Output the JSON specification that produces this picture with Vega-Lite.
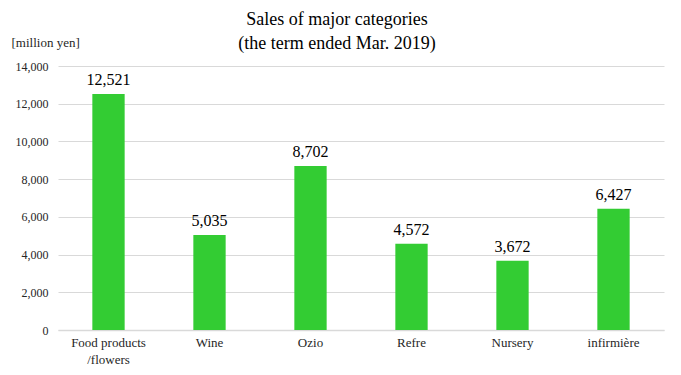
{
  "$schema": "https://vega.github.io/schema/vega-lite/v6.json",
  "width": 606,
  "height": 264,
  "autosize": {"type": "none"},
  "padding": {"left": 58, "top": 66, "right": 17, "bottom": 45},
  "background": "white",
  "config": {
    "font": "Liberation Serif",
    "view": {"stroke": null}
  },
  "title": {
    "text": ["Sales of major categories", "(the term ended Mar. 2019)"],
    "font": "Liberation Serif",
    "fontSize": 18,
    "fontWeight": "normal",
    "color": "#000000",
    "anchor": "middle",
    "dx": -24,
    "offset": -17,
    "lineHeight": 24
  },
  "data": {
    "values": [
      {"category": "Food products/flowers", "sales": 12521},
      {"category": "Wine", "sales": 5035},
      {"category": "Ozio", "sales": 8702},
      {"category": "Refre", "sales": 4572},
      {"category": "Nursery", "sales": 3672},
      {"category": "infirmière", "sales": 6427}
    ]
  },
  "encoding": {
    "x": {
      "field": "category",
      "type": "nominal",
      "sort": null,
      "scale": {"paddingInner": 0.68, "paddingOuter": 0.34},
      "axis": {
        "title": null,
        "labelAngle": 0,
        "labelFont": "Liberation Serif",
        "labelFontSize": 13,
        "labelColor": "#262626",
        "labelPadding": 6,
        "labelLineHeight": 17,
        "labelExpr": "datum.value == 'Food products/flowers' ? ['Food products', '/flowers'] : datum.label",
        "ticks": false,
        "domainColor": "#d9d9d9",
        "domainWidth": 1.5
      }
    },
    "y": {
      "field": "sales",
      "type": "quantitative",
      "scale": {"domain": [0, 14000]},
      "axis": {
        "values": [0, 2000, 4000, 6000, 8000, 10000, 12000, 14000],
        "format": ",d",
        "title": "[million yen]",
        "titleAngle": 0,
        "titleX": -47,
        "titleY": -24,
        "titleAlign": "left",
        "titleBaseline": "middle",
        "titleFont": "Liberation Serif",
        "titleFontSize": 13,
        "titleFontWeight": "normal",
        "titleColor": "#262626",
        "labelFont": "Liberation Serif",
        "labelFontSize": 12,
        "labelColor": "#262626",
        "labelPadding": 10,
        "ticks": false,
        "domain": false,
        "gridColor": "#d9d9d9",
        "gridWidth": 1
      }
    }
  },
  "layer": [
    {"mark": {"type": "bar", "color": "#33cc33"}},
    {
      "mark": {"type": "text", "dy": -14, "fontSize": 16, "font": "Liberation Serif", "color": "#000000"},
      "encoding": {"text": {"field": "sales", "type": "quantitative", "format": ",d"}}
    }
  ]
}
